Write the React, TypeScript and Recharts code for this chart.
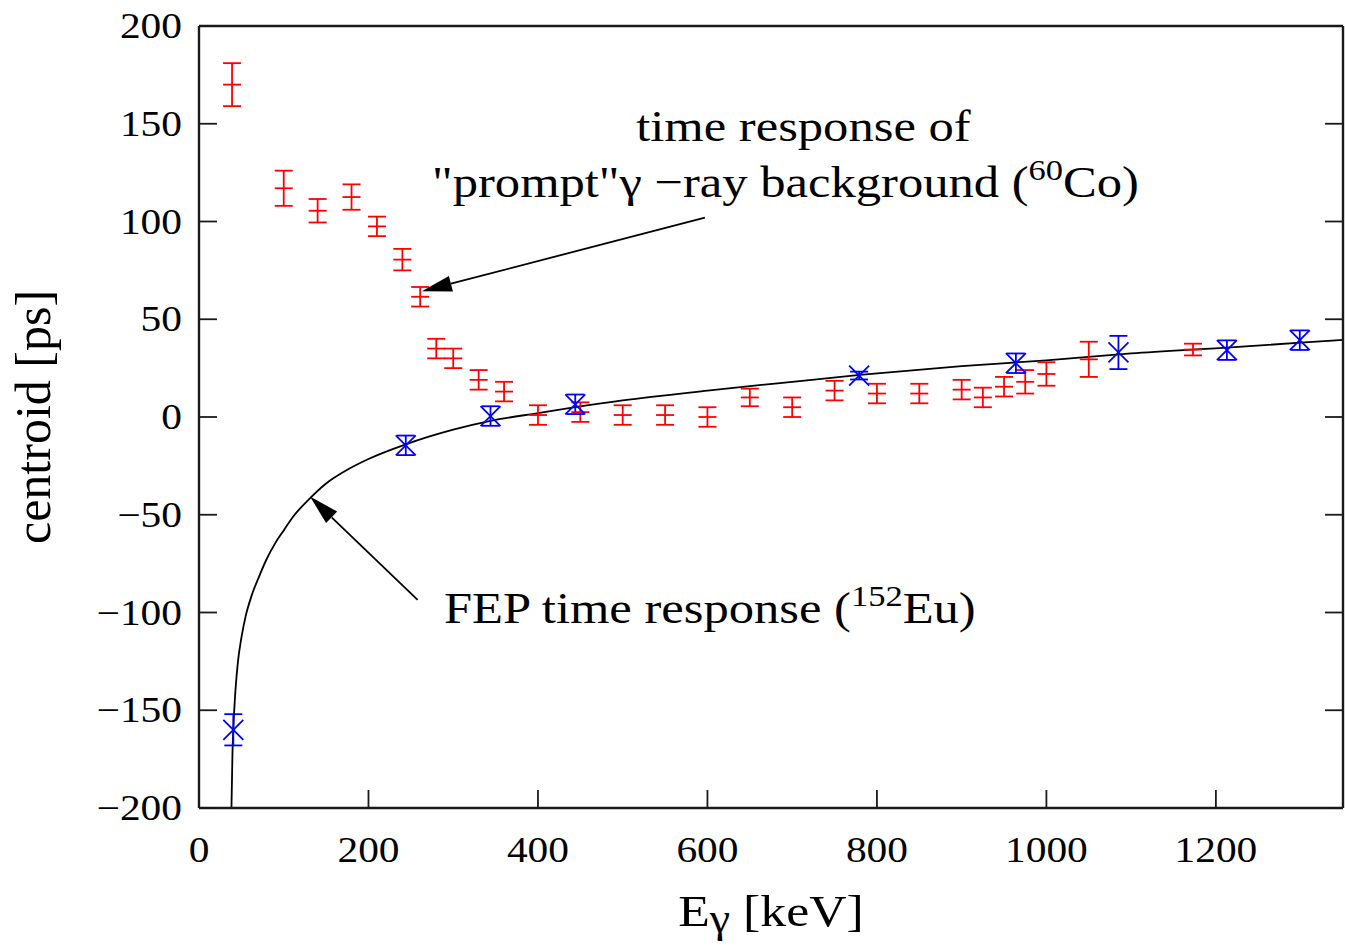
import React from 'react';
import {
  ComposedChart,
  XAxis,
  YAxis,
  Scatter,
  Line,
  ErrorBar,
  ReferenceLine,
  ReferenceDot,
} from 'recharts';

const FONT = '"Liberation Serif", "Times New Roman", serif';
const STRETCH = 1.15;

// ---- axes ----
const xTicks = [0, 200, 400, 600, 800, 1000, 1200];
const yTicks = [-200, -150, -100, -50, 0, 50, 100, 150, 200];
const xDomain = [0, 1350];
const yDomain = [-200, 200];

// ---- "prompt" gamma-ray background (60Co), red ----
const co60Energy = [39, 100, 140, 180, 210, 240, 261, 280, 300, 330, 360, 400, 450, 500, 550, 600, 650, 700, 750, 800, 850, 900, 925, 950, 975, 1000, 1050, 1173];
const co60Centroid = [170, 117, 105.5, 112.5, 97.5, 80.5, 61.5, 35, 30, 19, 13, 1, 2.5, 1, 1, 0, 10, 5, 13.5, 12, 12, 14, 10, 15.5, 18, 22, 29.5, 34.5];
const co60Error = [11, 9, 6, 6.5, 5, 5.5, 5, 5, 5, 5, 5, 5, 5, 5, 5, 5, 4.5, 5, 5, 5, 5, 5, 5, 5, 6, 6, 9, 3];

// ---- FEP time response (152Eu), blue ----
const eu152Energy = [40.5, 244, 344, 444, 779, 964, 1085, 1213, 1299];
const eu152Centroid = [-160, -14.5, 0.5, 6.5, 21.2, 27.5, 33, 34.2, 39.3];
const eu152Error = [8, 5, 5, 5, 2, 5, 8.5, 5, 5];

// ---- fitted curve ----
const fitEnergy = [38.3, 39.5, 41, 43, 46, 50, 55, 62, 71, 80, 90, 100, 111, 130, 150, 175, 200, 244, 300, 344, 400, 444, 500, 600, 700, 780, 900, 1000, 1100, 1213, 1300, 1350];
const fitCentroid = [-200, -172, -155, -140, -125, -113, -102, -91.5, -81.5, -72.5, -64.5, -58, -51, -42, -34, -27, -21.5, -14, -6.5, -2, 2, 5, 8.5, 13.5, 18, 21.5, 26, 29, 32.5, 35.5, 38, 39.5];

// ---- annotations (data coordinates) ----
const note1Line1 = { x: 516, y: 141, text: 'time response of' };
const note1Line2 = { x: 275, y: 112.5 };
const note1Arrow = [{ x: 597, y: 102 }, { x: 263, y: 64.3 }];
const note2 = { x: 289, y: -105.2 };
const note2Arrow = [{ x: 258, y: -93.5 }, { x: 131, y: -40.7 }];

const co60Data = co60Energy.map((x, i) => ({ x, y: co60Centroid[i], err: co60Error[i] }));
const eu152Data = eu152Energy.map((x, i) => ({ x, y: eu152Centroid[i], err: eu152Error[i] }));
const fitData = fitEnergy.map((x, i) => ({ x, y: fitCentroid[i] }));

const FRAME = '#1a1a1a';
const TICK_LEN = 18;

const fmt = (v: number) => (v < 0 ? '\u2212' + Math.abs(v) : String(v));

const BottomTick = (props: any) => {
  const { x, y, payload } = props;
  return (
    <g>
      <line x1={x} y1={y} x2={x} y2={y - TICK_LEN} stroke={FRAME} strokeWidth={1.8} />
      <text
        transform={`translate(${x},${y + 54}) scale(${STRETCH},1)`}
        textAnchor="middle"
        fontSize={36}
        fontFamily={FONT}
        fill="#000"
      >
        {fmt(payload.value)}
      </text>
    </g>
  );
};

const TopTick = (props: any) => {
  const { x, y } = props;
  return <line x1={x} y1={y} x2={x} y2={y + TICK_LEN} stroke={FRAME} strokeWidth={1.8} />;
};

const LeftTick = (props: any) => {
  const { x, y, payload } = props;
  return (
    <g>
      <line x1={x} y1={y} x2={x + TICK_LEN} y2={y} stroke={FRAME} strokeWidth={1.8} />
      <text
        transform={`translate(${x - 17},${y + 12}) scale(${STRETCH},1)`}
        textAnchor="end"
        fontSize={36}
        fontFamily={FONT}
        fill="#000"
      >
        {fmt(payload.value)}
      </text>
    </g>
  );
};

const RightTick = (props: any) => {
  const { x, y } = props;
  return <line x1={x} y1={y} x2={x - TICK_LEN} y2={y} stroke={FRAME} strokeWidth={1.8} />;
};

const XLabel = (props: any) => {
  const vb = props.viewBox || {};
  const cx = vb.x + vb.width / 2;
  const by = vb.y + 118;
  return (
    <text
      transform={`translate(${cx},${by}) scale(${STRETCH},1)`}
      textAnchor="middle"
      fontSize={45}
      fontFamily={FONT}
      fill="#000"
    >
      <tspan>E</tspan>
      <tspan fontSize={40} dy={6}>γ</tspan>
      <tspan dy={-6}> [keV]</tspan>
    </text>
  );
};

const YLabel = (props: any) => {
  const vb = props.viewBox || {};
  const cy = vb.y + vb.height / 2;
  return (
    <text
      transform={`translate(50,${cy}) rotate(-90)`}
      textAnchor="middle"
      fontSize={50}
      fontFamily={FONT}
      fill="#000"
    >
      centroid [ps]
    </text>
  );
};

const RedMark = (props: any) => {
  const { cx, cy } = props;
  return <line x1={cx - 9} y1={cy} x2={cx + 9} y2={cy} stroke="#ff0000" strokeWidth={1.8} />;
};

const BlueMark = (props: any) => {
  const { cx, cy } = props;
  return (
    <g stroke="#0000ff" strokeWidth={1.8}>
      <line x1={cx - 10} y1={cy - 10} x2={cx + 10} y2={cy + 10} />
      <line x1={cx - 10} y1={cy + 10} x2={cx + 10} y2={cy - 10} />
    </g>
  );
};

const Arrow = (props: any) => {
  const { x1, y1, x2, y2 } = props;
  const dx = x2 - x1;
  const dy = y2 - y1;
  const len = Math.sqrt(dx * dx + dy * dy) || 1;
  const ux = dx / len;
  const uy = dy / len;
  const headLen = 30;
  const headHalf = 8;
  const bx = x2 - ux * headLen;
  const by = y2 - uy * headLen;
  const px = -uy;
  const py = ux;
  return (
    <g>
      <line x1={x1} y1={y1} x2={bx} y2={by} stroke="#000" strokeWidth={1.8} />
      <polygon
        points={`${x2},${y2} ${bx + px * headHalf},${by + py * headHalf} ${bx - px * headHalf},${by - py * headHalf}`}
        fill="#000"
      />
    </g>
  );
};

const textAt = (content: React.ReactNode) => (props: any) => {
  const { cx, cy } = props;
  return (
    <text
      transform={`translate(${cx},${cy}) scale(${STRETCH},1)`}
      fontSize={44}
      fontFamily={FONT}
      fill="#000"
      textAnchor="start"
    >
      {content}
    </text>
  );
};

const line1Content = <tspan>{note1Line1.text}</tspan>;
const line2Content = (
  <>
    <tspan>{'"prompt"γ \u2212ray background ('}</tspan>
    <tspan fontSize={30} dy={-17}>60</tspan>
    <tspan dy={17}>Co)</tspan>
  </>
);
const note2Content = (
  <>
    <tspan>{'FEP time response ('}</tspan>
    <tspan fontSize={30} dy={-17}>152</tspan>
    <tspan dy={17}>Eu)</tspan>
  </>
);

export default function App() {
  return (
    <div style={{ position: 'absolute', left: 0, top: 0, width: 1345, height: 947, background: '#fff' }}>
      <ComposedChart
        width={1345}
        height={947}
        margin={{ top: 25, right: 0, bottom: 0, left: 0 }}
        style={{ fontFamily: FONT }}
      >
        <XAxis
          xAxisId={0}
          type="number"
          dataKey="x"
          domain={xDomain}
          ticks={xTicks}
          allowDataOverflow
          height={139}
          tickSize={0}
          tickMargin={0}
          tickLine={false}
          tick={<BottomTick />}
          axisLine={{ stroke: FRAME, strokeWidth: 2.4 }}
          label={<XLabel />}
        />
        <XAxis
          xAxisId="top"
          orientation="top"
          type="number"
          domain={xDomain}
          ticks={xTicks}
          allowDataOverflow
          height={1}
          tickSize={0}
          tickMargin={0}
          tickLine={false}
          tick={<TopTick />}
          axisLine={{ stroke: FRAME, strokeWidth: 2.4 }}
        />
        <YAxis
          yAxisId={0}
          type="number"
          dataKey="y"
          domain={yDomain}
          ticks={yTicks}
          allowDataOverflow
          width={199}
          tickSize={0}
          tickMargin={0}
          tickLine={false}
          tick={<LeftTick />}
          axisLine={{ stroke: FRAME, strokeWidth: 2.4 }}
          label={<YLabel />}
        />
        <YAxis
          yAxisId="right"
          orientation="right"
          type="number"
          domain={yDomain}
          ticks={yTicks}
          allowDataOverflow
          width={2}
          tickSize={0}
          tickMargin={0}
          tickLine={false}
          tick={<RightTick />}
          axisLine={{ stroke: FRAME, strokeWidth: 2.4 }}
        />

        <Line
          data={fitData}
          dataKey="y"
          type="monotone"
          stroke="#000"
          strokeWidth={1.8}
          dot={false}
          activeDot={false}
          isAnimationActive={false}
        />

        <Scatter data={co60Data} dataKey="y" shape={<RedMark />} isAnimationActive={false}>
          <ErrorBar dataKey="err" direction="y" width={9} stroke="#ff0000" strokeWidth={1.8} isAnimationActive={false} />
        </Scatter>

        <Scatter data={eu152Data} dataKey="y" shape={<BlueMark />} isAnimationActive={false}>
          <ErrorBar dataKey="err" direction="y" width={9} stroke="#0000ff" strokeWidth={1.8} isAnimationActive={false} />
        </Scatter>

        <ReferenceLine segment={note1Arrow} shape={(p: any) => <Arrow {...p} />} />
        <ReferenceLine segment={note2Arrow} shape={(p: any) => <Arrow {...p} />} />

        <ReferenceDot x={note1Line1.x} y={note1Line1.y} r={1} shape={textAt(line1Content)} />
        <ReferenceDot x={note1Line2.x} y={note1Line2.y} r={1} shape={textAt(line2Content)} />
        <ReferenceDot x={note2.x} y={note2.y} r={1} shape={textAt(note2Content)} />
      </ComposedChart>
    </div>
  );
}
